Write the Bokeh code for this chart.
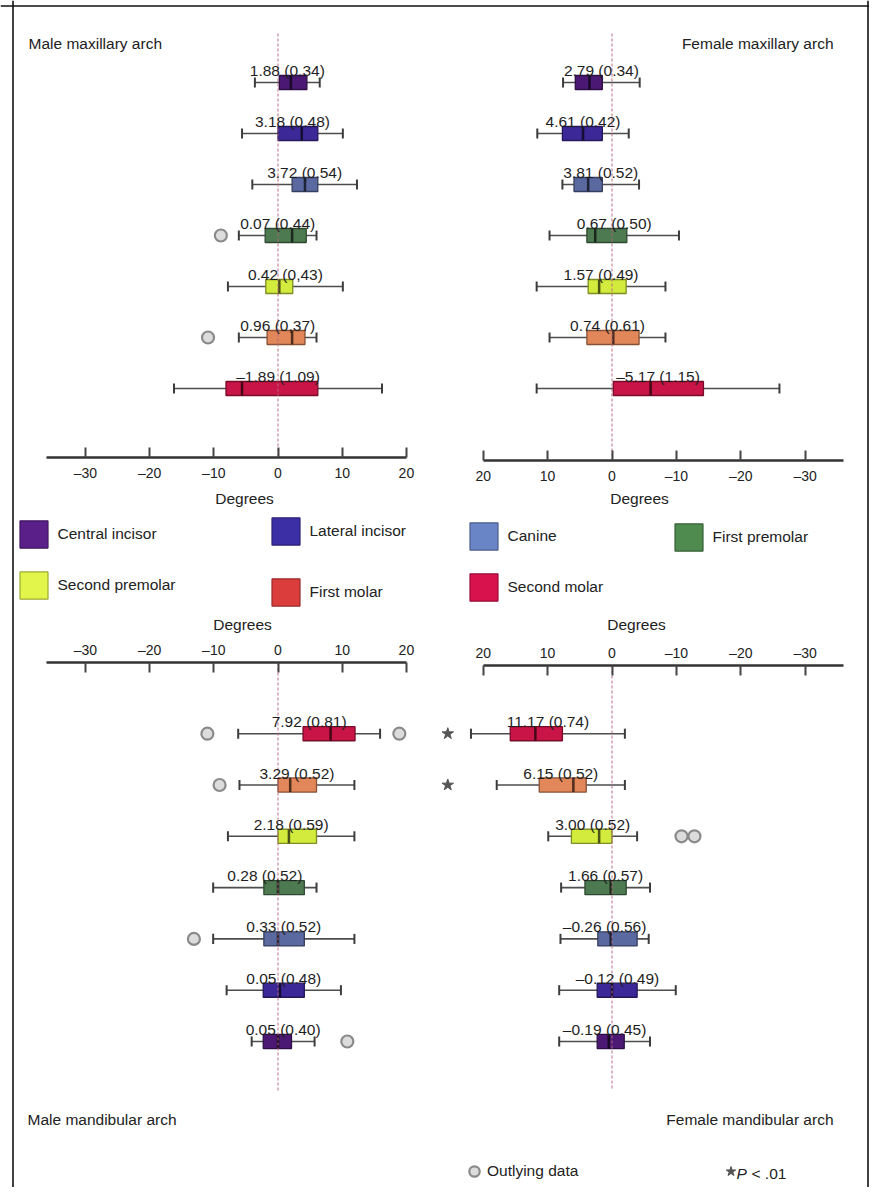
import math
from bokeh.plotting import figure
from bokeh.models import (Range1d, LinearAxis, FixedTicker, ColumnDataSource, Label,
                          Legend, LegendItem, Span)
from bokeh.embed import file_html
from bokeh.resources import INLINE
from bokeh.core.properties import value

# ---------------- data ----------------
TEETH = ["Central incisor", "Lateral incisor", "Canine", "First premolar",
         "Second premolar", "First molar", "Second molar"]

# Male maxillary arch (degrees)
male_max_label = ["1.88 (0.34)", "3.18 (0.48)", "3.72 (0.54)", "0.07 (0.44)",
                  "0.42 (0,43)", "0.96 (0,37)", "\u20131.89 (1.09)"]
male_max_lo = [-3.6, -5.6, -4.0, -6.1, -7.8, -6.1, -16.2]
male_max_q1 = [0.2, 0.0, 2.2, -2.0, -1.9, -1.7, -8.1]
male_max_med = [2.0, 3.7, 4.2, 2.2, 0.2, 2.2, -5.6]
male_max_q3 = [4.5, 6.2, 6.2, 4.4, 2.3, 4.2, 6.2]
male_max_hi = [6.5, 10.1, 12.3, 6.0, 10.1, 6.0, 16.2]
male_max_out_row = [3, 5]
male_max_out_val = [-8.9, -10.9]

# Female maxillary arch
fem_max_label = ["2.79 (0.34)", "4.61 (0.42)", "3.81 (0.52)", "0.67 (0.50)",
                 "1.57 (0.49)", "0.74 (0.61)", "\u20135.17 (1.15)"]
fem_max_lo = [-4.3, -2.6, -4.2, -10.4, -8.3, -8.3, -26.0]
fem_max_q1 = [1.5, 1.5, 1.5, -2.3, -2.2, -4.2, -14.2]
fem_max_med = [3.5, 4.5, 3.7, 2.6, 2.0, -0.2, -6.0]
fem_max_q3 = [5.7, 7.7, 5.9, 3.9, 3.7, 3.9, -0.2]
fem_max_hi = [7.6, 11.6, 7.7, 9.7, 11.7, 9.7, 11.7]
fem_max_out_row = []
fem_max_out_val = []

# Male mandibular arch
male_man_label = ["0.05 (0.40)", "0.05 (0.48)", "0.33 (0.52)", "0.28 (0.52)",
                  "2.18 (0.59)", "3.29 (0.52)", "7.92 (0.81)"]
male_man_lo = [-4.1, -8.0, -10.1, -10.1, -7.8, -6.0, -6.2]
male_man_q1 = [-2.3, -2.3, -2.2, -2.2, 0.0, 0.0, 3.9]
male_man_med = [0.0, 0.3, 0.0, 0.0, 1.7, 1.9, 8.2]
male_man_q3 = [2.1, 4.1, 4.1, 4.1, 6.0, 6.0, 12.0]
male_man_hi = [5.7, 9.8, 11.9, 6.0, 11.9, 11.9, 15.9]
male_man_out_row = [6, 6, 5, 2, 0]
male_man_out_val = [-11.0, 18.9, -9.1, -13.1, 10.8]

# Female mandibular arch
fem_man_label = ["\u20130.19 (0.45)", "\u20130.12 (0.49)", "\u20130.26 (0.56)", "1.66 (0.57)",
                 "3.00 (0.52)", "6.15 (0.52)", "11.17 (0.74)"]
fem_man_lo = [-5.9, -9.9, -5.7, -5.9, -3.9, -2.0, -2.0]
fem_man_q1 = [-1.9, -3.9, -3.9, -2.2, 0.0, 4.0, 7.7]
fem_man_med = [0.5, 0.0, 0.2, 0.2, 2.0, 6.0, 11.9]
fem_man_q3 = [2.3, 2.3, 2.2, 4.2, 6.3, 11.3, 15.8]
fem_man_hi = [8.2, 8.2, 8.0, 7.9, 9.9, 17.9, 21.9]
fem_man_out_row = [4, 4]
fem_man_out_val = [-10.8, -12.8]
fem_man_sig_row = [6, 5]          # P < .01

TICKS = [-30, -20, -10, 0, 10, 20]

# ---------------- style ----------------
FONT = "Liberation Sans"
BOX_COLORS = ["#4b1973", "#3c2896", "#5a69a0", "#4e7a52", "#d2eb3c", "#e1875a", "#c81446"]
LEGEND_COLORS = ["#5b1f8a", "#3c2fa6", "#6a85c6", "#4f8a4f", "#e1f54a", "#db3c3c", "#d8124c"]


def shade(c, f):
    h = c.lstrip("#")
    r, g, b = (int(h[i:i + 2], 16) for i in (0, 2, 4))
    return "#%02x%02x%02x" % (int(r * f), int(g * f), int(b * f))


W, H = 869, 1187
FRAME_L, FRAME_T, FRAME_R, FRAME_B = 0, 0, W, H

p = figure(width=W, height=H, x_range=Range1d(FRAME_L, FRAME_R),
           y_range=Range1d(FRAME_B, FRAME_T), x_axis_type=None, y_axis_type=None,
           toolbar_location=None, tools="", output_backend="svg", title=None,
           min_border_left=0, min_border_right=0, min_border_top=0, min_border_bottom=0)
p.outline_line_color = None
p.background_fill_color = "white"
p.border_fill_color = "white"


def xr(zero_px, ppd):
    return Range1d((FRAME_L - zero_px) / ppd, (FRAME_R - zero_px) / ppd)


def yr(row0_px, ppr):
    return Range1d((FRAME_B - row0_px) / ppr, (FRAME_T - row0_px) / ppr)


p.extra_x_ranges = {"L": xr(277.5, 6.42), "R": xr(611.5, -6.44)}
p.extra_y_ranges = {"U": yr(82, 51.0), "D": yr(1041, -51.3)}
ROW_PX = 51.0
BOX_H = 14 / ROW_PX
CAP_H = 10 / ROW_PX

# border (left, top, right)
for loc in (12.5, W - 1.5):
    p.add_layout(Span(location=loc, dimension="height", line_color="#111", line_width=1.6))
p.add_layout(Span(location=5.5, dimension="width", line_color="#111", line_width=1.6))

panels = [
    dict(x="L", y="U", d=(male_max_label, male_max_lo, male_max_q1, male_max_med, male_max_q3, male_max_hi),
         out=(male_max_out_row, male_max_out_val), axis=457, side="below", zl=(33, 457)),
    dict(x="R", y="U", d=(fem_max_label, fem_max_lo, fem_max_q1, fem_max_med, fem_max_q3, fem_max_hi),
         out=(fem_max_out_row, fem_max_out_val), axis=460, side="below", zl=(33, 460)),
    dict(x="L", y="D", d=(male_man_label, male_man_lo, male_man_q1, male_man_med, male_man_q3, male_man_hi),
         out=(male_man_out_row, male_man_out_val), axis=662, side="above", zl=(662, 1090)),
    dict(x="R", y="D", d=(fem_man_label, fem_man_lo, fem_man_q1, fem_man_med, fem_man_q3, fem_man_hi),
         out=(fem_man_out_row, fem_man_out_val), axis=665, side="above", zl=(665, 1090)),
]

out_renderers = []
for pn in panels:
    lab, lo, q1, med, q3, hi = pn["d"]
    rows = list(range(len(TEETH)))
    src = ColumnDataSource(dict(
        row=rows, lo=lo, q1=q1, med=med, q3=q3, hi=hi, label=lab,
        lx=[(a + b) / 2 for a, b in zip(lo, hi)],
        c0=[r - CAP_H / 2 for r in rows], c1=[r + CAP_H / 2 for r in rows],
        m0=[r - BOX_H / 2 for r in rows], m1=[r + BOX_H / 2 for r in rows],
        color=BOX_COLORS, edge=[shade(c, 0.6) for c in BOX_COLORS],
        mcol=[shade(c, 0.35) for c in BOX_COLORS]))
    kw = dict(source=src, x_range_name=pn["x"], y_range_name=pn["y"])
    p.segment(x0="lo", y0="row", x1="hi", y1="row", line_color="#4d4d4d", line_width=1.6, **kw)
    p.segment(x0="lo", y0="c0", x1="lo", y1="c1", line_color="#3c3c3c", line_width=2, **kw)
    p.segment(x0="hi", y0="c0", x1="hi", y1="c1", line_color="#3c3c3c", line_width=2, **kw)
    p.hbar(y="row", left="q1", right="q3", height=BOX_H, fill_color="color",
           line_color="edge", line_width=1.3, **kw)
    p.segment(x0="med", y0="m0", x1="med", y1="m1", line_color="mcol", line_width=2.5, **kw)
    # zero reference line
    p.segment(x0=[0], y0=[pn["zl"][0]], x1=[0], y1=[pn["zl"][1]], x_range_name=pn["x"],
              line_color="#b5677f", line_width=1.2, line_dash="3 2", line_alpha=0.8)
    p.text(x="lx", y="row", text="label", y_offset=-12, text_align="center",
           text_baseline="alphabetic", text_font=value(FONT), text_font_size="15.5px",
           text_color="#1e1e1e", **kw)
    orow, oval = pn["out"]
    r = p.scatter(x=oval, y=orow, marker="circle", size=12, fill_color="#dcdcdc",
                  line_color="#8a8a8a", line_width=2.2, x_range_name=pn["x"], y_range_name=pn["y"])
    out_renderers.append(r)

    ax = LinearAxis(x_range_name=pn["x"], fixed_location=pn["axis"],
                    ticker=FixedTicker(ticks=TICKS), bounds=(-36, 20))
    ax.major_label_overrides = {t: ("\u2013%d" % -t if t < 0 else str(t)) for t in TICKS}
    ax.axis_line_width = 2.5
    ax.axis_line_color = "#333333"
    ax.major_tick_line_width = 2
    ax.major_tick_line_color = "#444444"
    ax.major_tick_in = 10
    ax.major_tick_out = 0
    ax.minor_tick_line_color = None
    ax.major_label_standoff = 7 if pn["side"] == "below" else 5
    ax.major_label_text_font = FONT
    ax.major_label_text_font_size = "14px"
    ax.major_label_text_color = "#222222"
    p.add_layout(ax, pn["side"])

# significance stars (female mandibular)
STAR_X = 25.5
star_r = p.scatter(x=[STAR_X] * len(fem_man_sig_row), y=fem_man_sig_row, marker="star",
                   size=12, fill_color="#555555", line_color="#555555",
                   x_range_name="R", y_range_name="D")

# titles, axis captions and key texts
for txt, x, y, al, st in [("Male maxillary arch", 28, 43, "left", "normal"),
                          ("Female maxillary arch", 833, 43, "right", "normal"),
                          ("Male mandibular arch", 27, 1119, "left", "normal"),
                          ("Female mandibular arch", 833, 1119, "right", "normal"),
                          ("Degrees", 244, 498, "center", "normal"),
                          ("Degrees", 639, 498, "center", "normal"),
                          ("Degrees", 242, 624, "center", "normal"),
                          ("Degrees", 636, 624, "center", "normal"),
                          ("P", 736, 1173, "left", "italic"),
                          ("< .01", 751, 1173, "left", "normal")]:
    p.add_layout(Label(x=x, y=y, text=txt, text_align=al, text_baseline="middle",
                       text_font=FONT, text_font_size="15.5px", text_font_style=st,
                       text_color="#222222"))

# colour key
leg_src = ColumnDataSource(dict(y=[math.nan] * 7, left=[math.nan] * 7, right=[math.nan] * 7,
                                color=LEGEND_COLORS, edge=[shade(c, 0.7) for c in LEGEND_COLORS]))
leg_r = p.hbar(y="y", left="left", right="right", height=1, source=leg_src,
               fill_color="color", line_color="edge", line_width=1.2)

GW, GH = 35, 34      # legend glyph box (the swatch is drawn inset by 10 %)
for idx, x, top, pitch in [([0, 4], 19, 520, 51), ([1, 5], 271, 517, 61),
                           ([2, 6], 469, 522, 51), ([3], 674, 523, 51)]:
    n = len(idx)
    sp = pitch - GH
    gtop = top - 3.4
    bottom = gtop + n * GH + (n - 1) * sp
    lg = Legend(items=[LegendItem(label=TEETH[i], renderers=[leg_r], index=i) for i in idx],
                location=(x - 3.5 - FRAME_L, FRAME_B - bottom), orientation="vertical",
                spacing=sp, glyph_width=GW, glyph_height=GH, label_height=GH,
                label_standoff=7, padding=0, margin=0, border_line_color=None,
                background_fill_alpha=0, label_text_font=FONT,
                label_text_font_size="15.5px", label_text_color="#222222")
    p.add_layout(lg)

lg_out = Legend(items=[LegendItem(label="Outlying data", renderers=[out_renderers[0]], index=0)],
                location=(461 - FRAME_L, FRAME_B - 1184), glyph_width=26, glyph_height=26,
                label_height=26, label_standoff=0, padding=0, margin=0, border_line_color=None,
                background_fill_alpha=0, label_text_font=FONT, label_text_font_size="15.5px",
                label_text_color="#222222")
p.add_layout(lg_out)
lg_sig = Legend(items=[LegendItem(label=" ", renderers=[star_r], index=0)],
                location=(718 - FRAME_L, FRAME_B - 1184), glyph_width=25, glyph_height=26,
                label_height=26, label_standoff=0, padding=0, margin=0, border_line_color=None,
                background_fill_alpha=0, label_text_font=FONT, label_text_font_size="15.5px",
                label_text_color="#222222")
p.add_layout(lg_sig)

open("out.html", "w").write(file_html(p, INLINE))
